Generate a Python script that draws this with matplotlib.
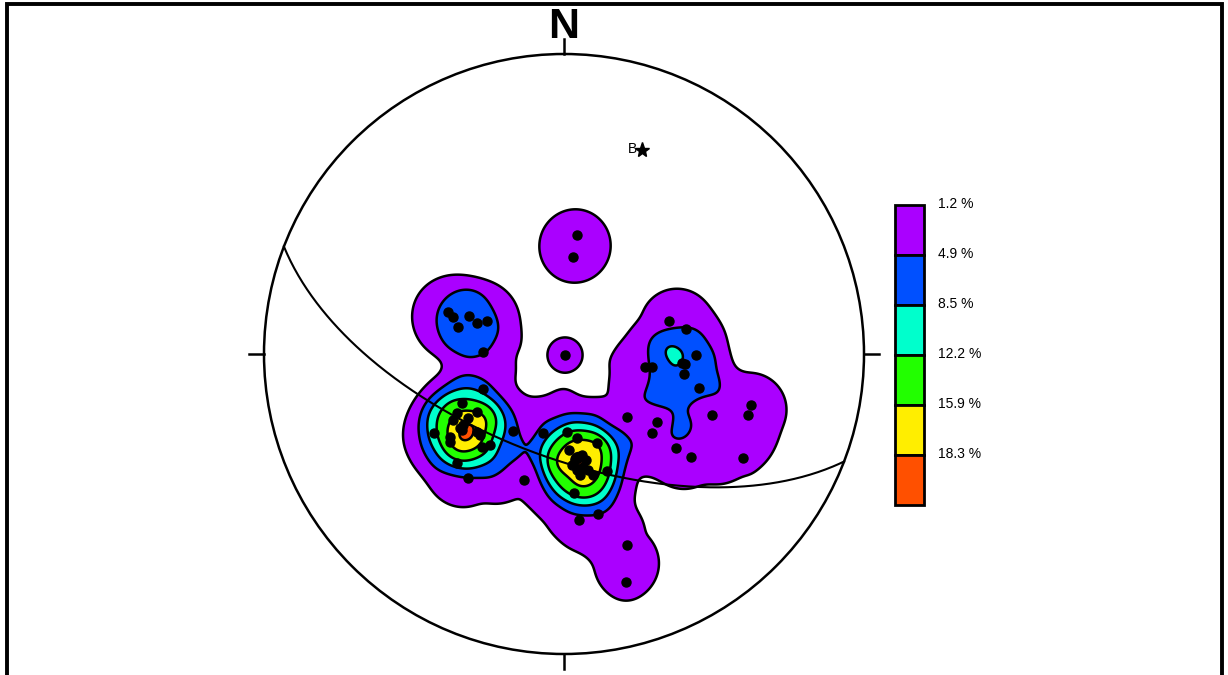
import numpy as np
import matplotlib.pyplot as plt
from matplotlib.patches import Circle, Rectangle

px = [577, 573, 565,
      448, 453, 458, 469, 477, 487, 483,
      483, 462, 477, 457, 468, 453, 463, 462, 434, 450, 477, 480, 482, 490,
      450, 513, 457, 468, 524, 460,
      543, 567, 577, 597, 569, 582, 572, 577, 583, 593, 607, 574, 579, 598,
      578, 586, 588, 580, 575,
      669, 686, 696, 682, 685, 684, 645, 652, 699, 627, 657, 652, 712, 751,
      748, 676, 691, 743,
      627, 626]
py = [235, 257, 355,
      312, 317, 327, 316, 323, 321, 352,
      389, 403, 412, 413, 418, 420, 425, 430, 433, 437, 432, 435, 447, 445,
      442, 431, 463, 478, 480, 428,
      433, 432, 438, 443, 450, 455, 465, 470, 467, 475, 471, 493, 520, 514,
      458, 460, 470, 475, 460,
      321, 329, 355, 363, 364, 374, 367, 367, 388, 417, 422, 433, 415, 405,
      415, 448, 457, 458,
      545, 582]
# to units of the primitive radius (x east, y north)
pole_x = (np.array(px) - 564) / 300.0
pole_y = (354 - np.array(py)) / 300.0

# beta axis (pole of the great circle): trend / plunge in degrees
beta_trend, beta_plunge = 21.0, 28.0

levels = [1.2, 4.9, 8.5, 12.2, 15.9, 18.3]
level_labels = ['1.2 %', '4.9 %', '8.5 %', '12.2 %', '15.9 %', '18.3 %']
colors = ['#aa00ff', '#0050ff', '#00ffcc', '#22ff00', '#ffee00', '#ff5000']


def project(e, n, u):
    # lower hemisphere equal-area projection
    theta = np.arccos(np.clip(-u, -1, 1))
    r = np.sqrt(2) * np.sin(theta / 2)
    h = np.hypot(e, n)
    h = np.where(h == 0, 1, h)
    return r * e / h, r * n / h


fig = plt.figure(figsize=(12.28, 6.75), dpi=100)
ax = fig.add_axes([0, 0, 1, 1])
ax.set_xlim(-564 / 300, (1228 - 564) / 300)
ax.set_ylim(-(675 - 354) / 300, 354 / 300)
ax.set_aspect('equal')
ax.axis('off')

# smoothed counting-circle density of the poles
gx, gy = np.meshgrid(np.linspace(-1, 1, 501), np.linspace(-1, 1, 501))
radius = 40 / 300.0
dens = np.zeros_like(gx)
for x0, y0 in zip(pole_x, pole_y):
    d = np.hypot(gx - x0, gy - y0) / radius
    dens += np.exp(-d ** 5)
dens *= 1.22
dens[gx ** 2 + gy ** 2 > 1] = 0

lv = levels + [dens.max() + 100]
ax.contourf(gx, gy, dens, levels=lv, colors=colors)
ax.contour(gx, gy, dens, levels=levels, colors='black', linewidths=1.8)

# primitive circle and cardinal ticks
ax.add_patch(Circle((0, 0), 1, fill=False, lw=1.8, color='black'))
for a in [0, 90, 180, 270]:
    t = np.radians(a)
    ax.plot([np.sin(t), 1.05 * np.sin(t)], [np.cos(t), 1.05 * np.cos(t)],
            color='black', lw=1.8)
ax.text(0, 1.052, 'N', ha='center', va='baseline', fontsize=31,
        fontweight='bold', family='Liberation Sans')

# great circle normal to the beta axis
tr = np.radians(beta_trend)
pl = np.radians(beta_plunge)
strike = np.array([np.sin(tr + np.pi / 2), np.cos(tr + np.pi / 2), 0.0])
dip = np.array([-np.sin(pl) * np.sin(tr),
                -np.sin(pl) * np.cos(tr),
                -np.cos(pl)])
t = np.linspace(0, np.pi, 300)
v = np.outer(np.cos(t), strike) + np.outer(np.sin(t), dip)
gcx, gcy = project(v[:, 0], v[:, 1], v[:, 2])
ax.plot(gcx, gcy, color='black', lw=1.5)

# poles
ax.plot(pole_x, pole_y, 'o', color='black', markersize=6.5)

# beta axis
bx, by = project(np.cos(pl) * np.sin(tr), np.cos(pl) * np.cos(tr), -np.sin(pl))
ax.plot(bx, by, '*', color='black', markersize=11)
ax.text(bx - 0.017, by + 0.005, 'B', ha='right', va='center', fontsize=10,
        family='Liberation Sans')

# legend column
cax = fig.add_axes([895 / 1228, (675 - 505) / 675, 29 / 1228, 300 / 675])
cax.set_xlim(0, 1)
cax.set_ylim(0, 6)
cax.axis('off')
for i, c in enumerate(colors):
    cax.add_patch(Rectangle((0, 5 - i), 1, 1, facecolor=c, edgecolor='black',
                            lw=2, clip_on=False))
    cax.text(1.48, 6 - i + 0.02, level_labels[i], ha='left', va='center',
             fontsize=10, family='Liberation Sans')

# outer frame
fig.patches.append(Rectangle((7 / 1228, -0.05), (1222 - 7) / 1228,
                             (675 - 4) / 675 + 0.05, fill=False, lw=2.8,
                             edgecolor='black', transform=fig.transFigure))

fig.savefig('out.png', dpi=100)
